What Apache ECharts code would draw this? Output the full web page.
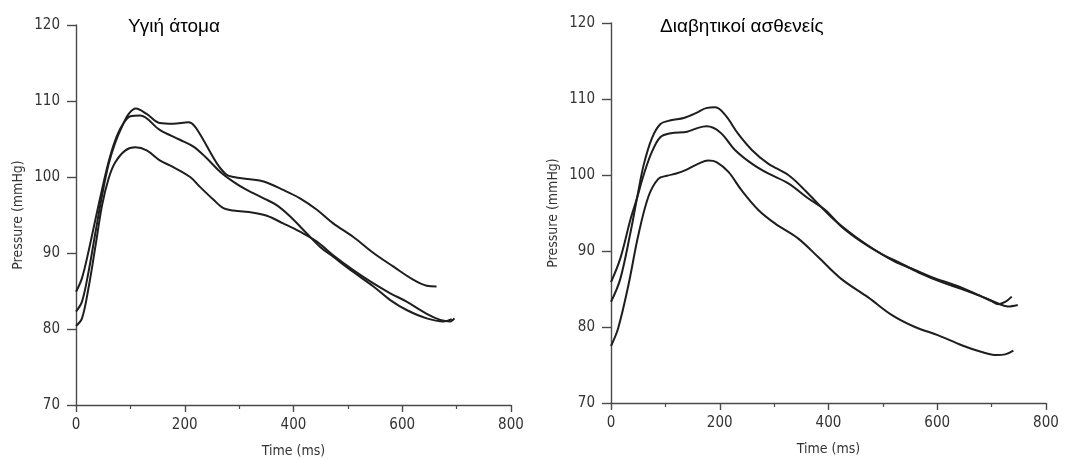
<!DOCTYPE html>
<html>
<head>
<meta charset="utf-8">
<script src="https://cdn.jsdelivr.net/npm/echarts@6/dist/echarts.min.js"></script>
<style>
html,body{margin:0;padding:0;background:#fff;}
#chart{width:1075px;height:459px;}
</style>
</head>
<body>
<div id="chart"></div>
<script>
// ---- Data ----
var titleLeft = 'Υγιή άτομα';
var titleRight = 'Διαβητικοί ασθενείς';
var xName = 'Time (ms)';
var yName = 'Pressure (mmHg)';

// Healthy subjects (left panel)
var healthyT1 = [0, 11, 23, 36, 48, 60, 72, 85, 97, 110, 130, 154, 179, 207, 218, 234, 259, 277, 290, 320, 345, 381, 412, 443, 473, 510, 547, 584, 620, 645, 663];
var healthyP1 = [82.3, 83.6, 87.5, 92.8, 97.6, 101.7, 104.5, 106.7, 108.3, 109.0, 108.3, 107.1, 107.0, 107.2, 106.7, 104.9, 101.8, 100.3, 100.0, 99.7, 99.4, 98.3, 97.2, 95.7, 93.9, 92.1, 90.0, 88.2, 86.5, 85.7, 85.6];
var healthyT2 = [0, 11, 23, 36, 48, 60, 72, 85, 100, 118, 154, 191, 216, 240, 265, 289, 314, 345, 369, 394, 424, 449, 473, 510, 547, 578, 608, 645, 676, 691];
var healthyP2 = [84.9, 86.7, 90.2, 94.5, 98.4, 102.0, 104.8, 106.8, 108.0, 108.1, 106.2, 104.9, 104.0, 102.5, 100.7, 99.4, 98.3, 97.2, 96.3, 94.8, 92.6, 90.8, 89.5, 87.5, 85.6, 83.8, 82.5, 81.4, 81.0, 81.3];
var healthyT3 = [0, 11, 23, 36, 48, 60, 72, 91, 109, 130, 154, 179, 210, 228, 253, 271, 289, 326, 351, 381, 412, 443, 473, 510, 547, 578, 608, 645, 670, 688, 696];
var healthyP3 = [80.4, 81.4, 85.4, 91.0, 96.3, 99.8, 101.9, 103.5, 103.9, 103.5, 102.2, 101.3, 100.0, 98.7, 97.0, 95.9, 95.6, 95.3, 94.9, 93.9, 92.8, 91.5, 89.7, 87.75, 86.0, 84.7, 83.6, 82.0, 81.2, 81.0, 81.4];

// Diabetic patients (right panel)
var diabT1 = [0, 17, 36, 48, 60, 75, 91, 110, 134, 158, 175, 192, 210, 234, 259, 289, 326, 351, 381, 412, 449, 486, 522, 559, 596, 633, 670, 700, 712, 725, 737];
var diabP1 = [83.3, 86.3, 92.5, 97.0, 101.3, 104.8, 106.7, 107.2, 107.5, 108.2, 108.8, 108.9, 107.9, 105.4, 103.3, 101.5, 100.0, 98.4, 96.2, 94.0, 91.9, 90.1, 88.6, 87.5, 86.4, 85.5, 84.4, 83.4, 83.0, 83.3, 84.0];
var diabT2 = [0, 17, 36, 48, 60, 75, 91, 110, 140, 160, 176, 201, 228, 259, 289, 326, 363, 394, 424, 461, 498, 535, 571, 608, 645, 682, 712, 730, 748];
var diabP2 = [85.9, 89.0, 94.2, 97.0, 100.0, 103.0, 105.0, 105.5, 105.7, 106.2, 106.4, 105.6, 103.3, 101.5, 100.2, 98.9, 96.9, 95.4, 93.2, 91.2, 89.6, 88.3, 87.0, 85.9, 85.0, 84.0, 83.1, 82.7, 82.9];
var diabT3 = [0, 13, 32, 50, 69, 87, 103, 120, 136, 161, 179, 194, 216, 240, 271, 302, 345, 381, 424, 473, 516, 559, 602, 645, 682, 709, 725, 740];
var diabP3 = [77.5, 79.8, 85.5, 92.0, 97.2, 99.5, 99.9, 100.2, 100.6, 101.5, 101.9, 101.7, 100.4, 98.0, 95.4, 93.6, 91.6, 89.2, 86.3, 83.9, 81.6, 80.0, 78.9, 77.6, 76.7, 76.3, 76.4, 76.9];

var xMin = 0, xMax = 800, xStep = 200;
var yMin = 70, yMax = 120, yStep = 10;

function zip(t, p) { return t.map(function (v, i) { return [v, p[i]]; }); }

var narrow = "'DejaVu Sans Condensed', 'Liberation Sans Narrow', sans-serif";
var axisCol = '#4a4a4a';

function xAxisCfg(gi) {
  return {
    type: 'value', gridIndex: gi, min: xMin, max: xMax, interval: xStep,
    name: xName, nameLocation: 'middle', nameGap: 39,
    nameTextStyle: { fontFamily: narrow, fontSize: 14, color: '#333' },
    axisLine: { lineStyle: { color: axisCol, width: 1.4 } },
    axisTick: { show: true, length: 7, lineStyle: { color: axisCol, width: 1.4 } },
    minorTick: { show: true, splitNumber: 2, length: 4, lineStyle: { color: axisCol, width: 1.2 } },
    splitLine: { show: false },
    axisLabel: { fontFamily: narrow, fontSize: 15, color: '#333', margin: 13 }
  };
}
function yAxisCfg(gi) {
  return {
    type: 'value', gridIndex: gi, min: yMin, max: yMax, interval: yStep,
    name: yName, nameLocation: 'middle', nameGap: 51, nameRotate: 90,
    nameTextStyle: { fontFamily: narrow, fontSize: 14, color: '#333' },
    axisLine: { show: true, lineStyle: { color: axisCol, width: 1.4 } },
    axisTick: { show: true, length: 9, lineStyle: { color: axisCol, width: 1.4 } },
    splitLine: { show: false },
    axisLabel: { fontFamily: narrow, fontSize: 15, color: '#333', margin: 16 }
  };
}
function line(gi, t, p) {
  return {
    type: 'line', xAxisIndex: gi, yAxisIndex: gi, data: zip(t, p),
    smooth: 0.35, symbol: 'none', silent: true,
    lineStyle: { color: '#1e1e1e', width: 2 }
  };
}

var chart = echarts.init(document.getElementById('chart'), null, { renderer: 'canvas' });
chart.setOption({
  backgroundColor: '#fff',
  animation: false,
  title: [
    { text: titleLeft, left: 123, top: 12, textStyle: { fontFamily: "'Liberation Sans', Arial, sans-serif", fontSize: 19, fontWeight: 'normal', color: '#000' } },
    { text: titleRight, left: 655, top: 12, textStyle: { fontFamily: "'Liberation Sans', Arial, sans-serif", fontSize: 19, fontWeight: 'normal', color: '#000' } }
  ],
  grid: [
    { left: 76, top: 25, width: 435, height: 380, containLabel: false, outerBoundsMode: 'none' },
    { left: 611, top: 23, width: 435, height: 380, containLabel: false, outerBoundsMode: 'none' }
  ],
  xAxis: [xAxisCfg(0), xAxisCfg(1)],
  yAxis: [yAxisCfg(0), yAxisCfg(1)],
  series: [
    line(0, healthyT1, healthyP1),
    line(0, healthyT2, healthyP2),
    line(0, healthyT3, healthyP3),
    line(1, diabT1, diabP1),
    line(1, diabT2, diabP2),
    line(1, diabT3, diabP3)
  ]
});
</script>
</body>
</html>
